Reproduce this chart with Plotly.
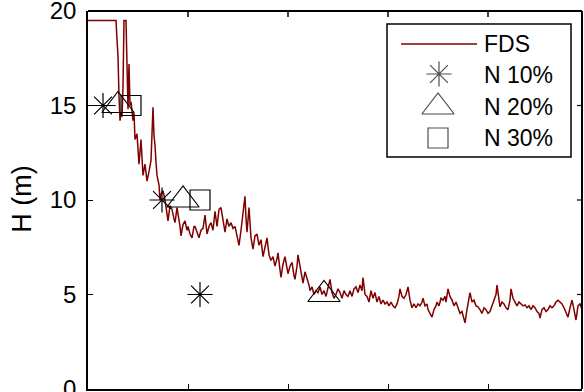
import plotly.graph_objects as go

# FDS simulated height H (m) over time
t_fds = [0, 28, 29, 30, 31, 32, 33, 34, 35, 36, 38, 39, 40, 41, 42, 43, 45, 46, 47, 49,
         50, 51, 53, 54, 55, 57, 58, 59, 61, 63, 64, 65, 66, 67, 68, 69, 71, 72, 73, 75,
         77, 78, 80, 82, 84, 86, 87, 89, 90, 92, 93, 95, 97, 99, 100, 102, 104, 106, 107, 109,
         111, 113, 115, 117, 119, 121, 123, 125, 127, 129, 131, 133, 135, 137, 139, 141, 143, 145, 147, 149,
         151, 153, 155, 157, 158, 159, 161, 163, 165, 167, 169, 171, 173, 175, 177, 179, 181, 183, 185, 187,
         189, 190, 192, 193, 195, 197, 199, 200, 202, 204, 206, 207, 209, 210, 212, 214, 215, 217, 219, 221,
         222, 224, 226, 228, 230, 232, 234, 236, 238, 240, 242, 244, 246, 248, 250, 252, 254, 256, 258, 260,
         262, 264, 266, 268, 270, 272, 274, 275, 277, 279, 281, 283, 285, 287, 289, 291, 293, 295, 297, 299,
         301, 303, 305, 307, 309, 311, 312, 314, 316, 318, 320, 322, 324, 326, 328, 330, 332, 334, 335, 337,
         339, 340, 342, 344, 346, 348, 349, 351, 353, 355, 357, 358, 360, 362, 364, 366, 368, 370, 372, 374,
         376, 377, 379, 381, 382, 384, 386, 388, 390, 392, 394, 396, 398, 400, 402, 404, 406, 408, 409, 411,
         412, 414, 416, 418, 420, 422, 423, 425, 427, 429, 431, 433, 435, 437, 439, 441, 443, 445, 447, 449,
         451, 452, 454, 456, 458, 460, 462, 464, 466, 468, 470, 472, 474, 476, 478, 480, 482, 484, 486, 488,
         490, 492, 494]
h_fds = [19.5, 19.5, 18.5, 17.6, 15.5, 14.2, 14.6, 14.4, 16.0, 19.5, 19.5, 17.0, 14.8, 17.2, 15.0, 15.2, 14.2, 14.6, 13.2, 13.5,
         12.5, 11.9, 13.2, 11.8, 11.3, 11.9, 11.2, 11.0, 11.5, 12.1, 13.5, 14.9, 13.4, 12.9, 12.0, 11.3, 10.8, 10.0, 10.3, 10.5,
         10.0, 9.6, 8.9, 9.7, 9.5, 9.0, 8.8, 9.6, 9.3, 8.6, 8.1, 8.7, 8.9, 8.4, 8.6, 8.2, 8.0, 8.6, 8.6, 8.3,
         8.0, 8.4, 8.5, 9.2, 8.2, 8.6, 8.8, 8.4, 9.4, 8.6, 9.5, 9.6, 9.0, 8.3, 9.0, 8.6, 8.8, 8.5, 8.6, 8.0,
         7.6, 8.4, 9.3, 10.2, 9.0, 8.3, 9.6, 8.0, 7.4, 8.1, 8.2, 7.6, 7.9, 7.0, 7.5, 8.0, 7.1, 6.8, 7.0, 6.5,
         6.9, 7.2, 6.3, 5.9, 6.6, 7.0, 6.4, 6.1, 6.5, 6.7, 6.0, 5.8, 6.5, 7.1, 6.5, 6.0, 5.6, 6.2, 5.9, 5.5,
         5.2, 5.4, 5.0, 5.2, 5.1, 5.4, 5.0, 5.2, 4.9, 5.3, 5.8, 5.1, 4.8, 5.0, 5.3, 5.1, 4.8, 5.2, 5.0, 4.9,
         5.2, 4.9, 5.3, 5.4, 5.1, 5.5, 5.2, 5.9, 5.0, 4.9, 4.6, 5.2, 4.8, 5.1, 4.6, 4.9, 4.5, 4.7, 4.5, 4.6,
         4.4, 4.6, 4.4, 4.3, 4.5, 4.9, 5.3, 4.9, 4.8, 5.0, 5.4, 4.7, 4.3, 4.5, 4.3, 4.5, 4.4, 4.6, 4.8, 4.4,
         4.5, 4.2, 4.0, 3.8, 4.2, 4.4, 4.6, 4.4, 4.8, 4.7, 4.9, 4.6, 5.3, 4.9, 4.7, 4.4, 4.6, 4.3, 4.0, 4.1,
         3.7, 3.5, 4.2, 4.7, 5.1, 4.6, 4.7, 4.4, 4.35, 4.2, 4.0, 4.3, 4.2, 4.0, 4.1, 4.4, 4.7, 5.0, 5.5, 4.8,
         4.35, 4.6, 4.5, 4.3, 4.2, 4.7, 5.3, 4.8, 4.55, 4.4, 4.6, 4.5, 4.4, 4.45, 4.3, 4.4, 4.2, 4.4, 4.3, 4.1,
         4.0, 3.75, 4.2, 4.3, 4.1, 4.2, 4.4, 4.3, 4.4, 4.6, 4.7, 4.6, 4.5, 4.3, 4.0, 3.8, 4.3, 4.7, 4.2, 3.65,
         4.4, 4.5, 4.2]

# Measured heights for the three N levels
t_n10 = [15, 74, 112]
h_n10 = [15, 10, 5]
t_n20 = [30, 95, 236]
h_n20 = [15, 10, 5]
t_n30 = [43, 112]
h_n30 = [15, 10]

y_ticks = [0, 5, 10, 15, 20]
x_ticks = [0, 100, 200, 300, 400]

legend_labels = ["FDS", "N 10%", "N 20%", "N 30%"]

FONT = "Liberation Sans, Arial, Helvetica, sans-serif"
RED = "#800000"

W, H = 584, 392
M_L, M_R, M_T, M_B = 88, 2, 11, 3
X_RANGE = [0, 494]
Y_RANGE = [0, 20]
TICK_LEN = 5
PLOT_W = W - M_L - M_R
PLOT_H = H - M_T - M_B


def px_x(px):
    """Horizontal pixel position -> x data value (for legend layout)."""
    return X_RANGE[0] + (px - M_L) / PLOT_W * (X_RANGE[1] - X_RANGE[0])


def px_y(py):
    """Vertical pixel position -> y data value (for legend layout)."""
    return Y_RANGE[0] + (H - M_B - py) / PLOT_H * (Y_RANGE[1] - Y_RANGE[0])


fig = go.Figure()

fig.add_trace(go.Scatter(x=t_fds, y=h_fds, mode="lines",
                         line=dict(color=RED, width=1.5), showlegend=False))

marker_line = dict(color="black", width=1.2)
fig.add_trace(go.Scatter(x=t_n10, y=h_n10, mode="markers", showlegend=False,
                         marker=dict(symbol="asterisk-open", size=21, color="black", line=marker_line)))
fig.add_trace(go.Scatter(x=t_n20, y=h_n20, mode="markers", showlegend=False,
                         marker=dict(symbol="triangle-up-open", size=28, color="black", line=marker_line)))
fig.add_trace(go.Scatter(x=t_n30, y=h_n30, mode="markers", showlegend=False,
                         marker=dict(symbol="square-open", size=20, color="black", line=marker_line)))

# Legend box drawn by hand (pixel layout converted to axis units)
leg_rows = [44, 75, 107, 138]
leg_sym_px = [(439, 74), (438, 107), (438, 138)]
leg_symbols = ["asterisk-open", "triangle-up-open", "square-open"]
leg_sizes = [21, 28, 20]

fig.add_trace(go.Scatter(x=[px_x(p[0]) for p in leg_sym_px],
                         y=[px_y(p[1]) for p in leg_sym_px],
                         mode="markers", showlegend=False, hoverinfo="skip",
                         marker=dict(symbol=leg_symbols, size=leg_sizes,
                                     color="black", line=marker_line)))

fig.add_shape(type="rect", xref="x", yref="y",
              x0=px_x(387), x1=px_x(571), y0=px_y(24), y1=px_y(157),
              line=dict(color="black", width=1.5), fillcolor="white", layer="below")
fig.add_shape(type="line", xref="x", yref="y",
              x0=px_x(401), x1=px_x(477), y0=px_y(leg_rows[0]), y1=px_y(leg_rows[0]),
              line=dict(color=RED, width=1.5))

# Closed axes box: top and right edges with inward ticks
fig.add_shape(type="line", xref="paper", yref="paper", x0=0, x1=1, y0=1, y1=1,
              line=dict(color="black", width=2))
fig.add_shape(type="line", xref="paper", yref="paper", x0=1, x1=1, y0=0, y1=1,
              line=dict(color="black", width=2))
for xv in x_ticks[1:]:
    fig.add_shape(type="line", xref="x", yref="paper", x0=xv, x1=xv,
                  y0=1, y1=1 - (TICK_LEN + 1) / PLOT_H, line=dict(color="black", width=1.5))
for yv in y_ticks[1:-1]:
    fig.add_shape(type="line", xref="paper", yref="y", x0=1, x1=1 - TICK_LEN / PLOT_W,
                  y0=yv, y1=yv, line=dict(color="black", width=1.2))

for lab, yy in zip(legend_labels, leg_rows):
    fig.add_annotation(x=px_x(482), y=px_y(yy), xref="x", yref="y", text=lab, showarrow=False,
                       xanchor="left", yanchor="middle",
                       font=dict(family=FONT, size=23, color="black"))

fig.add_annotation(x=-0.134, y=0.503, xref="paper", yref="paper", text="H (m)",
                   textangle=-90, showarrow=False, xanchor="center", yanchor="middle",
                   font=dict(family=FONT, size=27, color="black"))

axis_common = dict(showline=True, linecolor="black", linewidth=1.5,
                   ticks="inside", ticklen=TICK_LEN, tickwidth=1.2, tickcolor="black",
                   showgrid=False, zeroline=False, automargin=False)

fig.update_layout(
    template="none",
    width=W, height=H,
    margin=dict(l=M_L, r=M_R, t=M_T, b=M_B),
    paper_bgcolor="white", plot_bgcolor="white",
    showlegend=False, hovermode=False,
    font=dict(family=FONT, size=24, color="black"),
    xaxis=dict(range=X_RANGE, tickvals=x_ticks, showticklabels=False, **axis_common),
    yaxis=dict(range=Y_RANGE, tickvals=y_ticks, ticklabelstandoff=5,
               ticklabeloverflow="allow",
               tickfont=dict(family=FONT, size=24, color="black"), **axis_common),
)

fig.write_html("out.html", config={"displayModeBar": False})
